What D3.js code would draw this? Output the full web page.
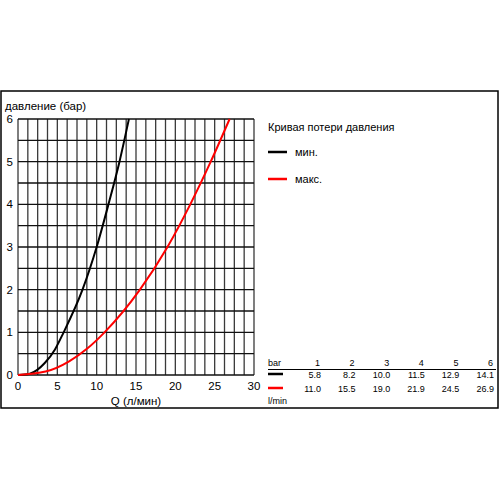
<!DOCTYPE html>
<html>
<head>
    <meta charset="utf-8">
    <title></title>
    <script src="https://cdn.jsdelivr.net/npm/d3@7"></script>
    <style>
        * { margin: 0; padding: 0; }
        body { background: #fff; }
        svg text { font-family: "Liberation Sans", Arial, sans-serif; }
    </style>
</head>
<body>
    <div id="chart"></div>
    <script>
        // values
        var pressures = [1, 2, 3, 4, 5, 6];            // bar
        var flowMin = [5.8, 8.2, 10.0, 11.5, 12.9, 14.1]; // l/min
        var flowMax = [11.0, 15.5, 19.0, 21.9, 24.5, 26.9];
        var lowMin = [[0, 0], [1.5, 0.03], [3.4, 0.28], [4.7, 0.6]];
        var lowMax = [[0, 0], [3.5, 0.08], [6.5, 0.32], [8.8, 0.62]];
        var xTicks = [0, 5, 10, 15, 20, 25, 30];
        var yTicks = [0, 1, 2, 3, 4, 5, 6];
        var legendNames = ["мин.", "макс."];
        var colors = ["#000000", "#ff0000"];

        var svg = d3.select("#chart").append("svg")
            .attr("width", 500).attr("height", 500);

        // frame
        svg.append("rect")
            .attr("x", 1).attr("y", 91).attr("width", 497).attr("height", 317)
            .attr("fill", "none").attr("stroke", "#000").attr("stroke-width", 1.5);

        var x = d3.scaleLinear().domain([0, 30]).range([18, 254]);
        var y = d3.scaleLinear().domain([0, 6]).range([375, 119]);

        // grid
        var vGrid = d3.range(0, 30.01, 1.25);
        var hGrid = d3.range(0, 6.01, 0.5);
        svg.append("g").selectAll("line").data(vGrid).enter().append("line")
            .attr("x1", function (d) { return x(d); }).attr("x2", function (d) { return x(d); })
            .attr("y1", y(0)).attr("y2", y(6))
            .attr("stroke", "#3a3a3a").attr("stroke-width", 1.3);
        svg.append("g").selectAll("line").data(hGrid).enter().append("line")
            .attr("x1", x(0)).attr("x2", x(30))
            .attr("y1", function (d) { return y(d); }).attr("y2", function (d) { return y(d); })
            .attr("stroke", "#111").attr("stroke-width", 1.3);

        // tick labels
        svg.append("g").selectAll("text").data(yTicks).enter().append("text")
            .attr("x", 13).attr("y", function (d) { return y(d) + 4; })
            .attr("text-anchor", "end").attr("font-size", 11.5)
            .text(function (d) { return d; });
        svg.append("g").selectAll("text").data(xTicks).enter().append("text")
            .attr("x", function (d) { return x(d); }).attr("y", 390)
            .attr("text-anchor", "middle").attr("font-size", 11.5)
            .text(function (d) { return d; });

        svg.append("text").attr("x", 5).attr("y", 110).attr("font-size", 11.5)
            .text("давление (бар)");
        svg.append("text").attr("x", 136).attr("y", 405).attr("font-size", 11.5)
            .attr("text-anchor", "middle").text("Q (л/мин)");

        // curves
        var line = d3.line()
            .x(function (d) { return x(d[0]); })
            .y(function (d) { return y(d[1]); })
            .curve(d3.curveMonotoneX);
        var series = [flowMin, flowMax].map(function (f, i) {
            var low = i == 0 ? lowMin : lowMax;
            return low.concat(f.map(function (q, j) { return [q, pressures[j]]; }));
        });
        svg.append("g").selectAll("path").data(series).enter().append("path")
            .attr("d", line)
            .attr("fill", "none")
            .attr("stroke", function (d, i) { return colors[i]; })
            .attr("stroke-width", 2);

        // legend
        svg.append("text").attr("x", 268).attr("y", 131).attr("font-size", 11)
            .text("Кривая потери давления");
        legendNames.forEach(function (n, i) {
            var ly = 152 + 27 * i;
            svg.append("line").attr("x1", 268).attr("x2", 287)
                .attr("y1", ly).attr("y2", ly)
                .attr("stroke", colors[i]).attr("stroke-width", 2.5);
            svg.append("text").attr("x", 295).attr("y", ly + 4).attr("font-size", 11)
                .text(n);
        });

        // table
        var colX = d3.scaleLinear().domain([1, 6]).range([320, 493]);
        svg.append("text").attr("x", 268).attr("y", 366).attr("font-size", 9).text("bar");
        svg.append("g").selectAll("text").data(pressures).enter().append("text")
            .attr("x", function (d) { return colX(d); }).attr("y", 366)
            .attr("text-anchor", "end").attr("font-size", 9)
            .text(function (d) { return d; });
        svg.append("line").attr("x1", 268).attr("x2", 496).attr("y1", 369.5).attr("y2", 369.5)
            .attr("stroke", "#000").attr("stroke-width", 1);
        [flowMin, flowMax].forEach(function (f, i) {
            var ry = 378 + 14 * i;
            svg.append("line").attr("x1", 268).attr("x2", 283)
                .attr("y1", ry - 4).attr("y2", ry - 4)
                .attr("stroke", colors[i]).attr("stroke-width", 2.5);
            svg.append("g").selectAll("text").data(f).enter().append("text")
                .attr("x", function (d, j) { return colX(pressures[j]) + 1; }).attr("y", ry)
                .attr("text-anchor", "end").attr("font-size", 9)
                .text(function (d) { return d.toFixed(1); });
        });
        svg.append("text").attr("x", 268).attr("y", 404).attr("font-size", 9).text("l/min");
    </script>
</body>
</html>
